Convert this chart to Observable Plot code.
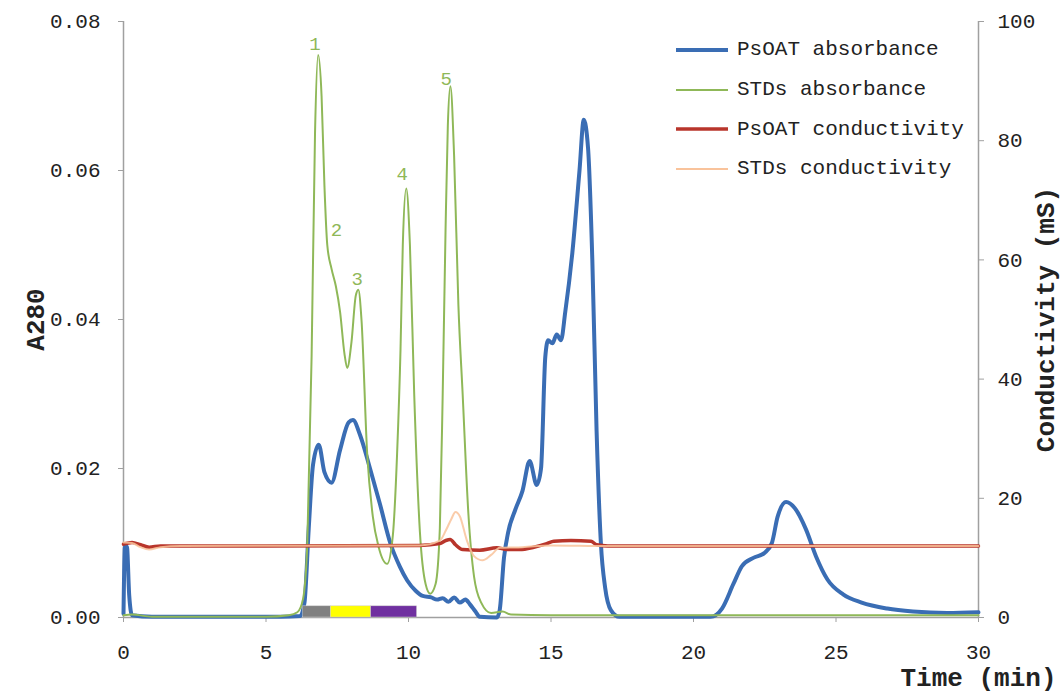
<!DOCTYPE html>
<html>
<head>
<meta charset="utf-8">
<script src="https://cdn.jsdelivr.net/npm/d3@7"></script>
<script src="https://cdn.jsdelivr.net/npm/@observablehq/plot@0.6"></script>
<style>
  html, body { margin: 0; padding: 0; background: #fff; }
  #chart { position: relative; width: 1064px; height: 695px; }
  .legend { position: absolute; left: 676px; top: 30px; font-family: "Liberation Mono", monospace; font-size: 21px; color: #222; }
  .legend .row { display: flex; align-items: center; height: 39.7px; }
  .legend svg { margin-right: 9px; }
</style>
</head>
<body>
<div id="chart"></div>
<script>
// Elution time axis (min) and tick labels
const xTicks = [0, 5, 10, 15, 20, 25, 30];
const absTicks = [0, 0.02, 0.04, 0.06, 0.08];
const condTicks = [0, 20, 40, 60, 80, 100];

// PsOAT absorbance at 280 nm
const psoatAbsTime = [0, 0.05, 0.12, 0.2, 0.3, 1.0, 3.0, 5.5, 6.2, 6.35, 6.5, 6.65, 6.85, 7.05, 7.3, 7.6, 7.9, 8.05, 8.3, 8.65, 9.0, 9.36, 9.7, 9.95, 10.25, 10.5, 10.8, 11.0, 11.2, 11.4, 11.6, 11.8, 12.0, 12.15, 12.35, 12.5, 13.1, 13.2, 13.35, 13.5, 13.75, 14.0, 14.25, 14.5, 14.65, 14.8, 14.9, 15.05, 15.2, 15.35, 15.5, 15.75, 16.0, 16.15, 16.3, 16.45, 16.6, 16.75, 16.9, 17.1, 17.4, 20.6, 21.0, 21.4, 21.7, 22.1, 22.5, 22.75, 22.95, 23.25, 23.55, 23.95, 24.3, 24.7, 25.25, 25.9, 26.8, 27.7, 28.9, 30];
const psoatAbs = [0.0005, 0.0095, 0.0095, 0.003, 0.0003, 0.0001, 0.0001, 0.0001, 0.0002, 0.002, 0.012, 0.0205, 0.0232, 0.0195, 0.0181, 0.0225, 0.0262, 0.0265, 0.0245, 0.0200, 0.0152, 0.0100, 0.0068, 0.0050, 0.0036, 0.0029, 0.0027, 0.0024, 0.0026, 0.0021, 0.0027, 0.0020, 0.0024, 0.0018, 0.0008, 0.0001, 0.0, 0.001, 0.008, 0.0115, 0.0145, 0.0170, 0.0210, 0.0178, 0.0200, 0.0350, 0.0372, 0.0368, 0.0380, 0.0372, 0.0410, 0.0490, 0.0600, 0.0668, 0.0630, 0.0480, 0.0250, 0.0100, 0.0040, 0.0010, 0.0001, 0.0001, 0.0012, 0.0045, 0.0069, 0.0080, 0.0087, 0.0100, 0.0135, 0.0155, 0.0147, 0.0118, 0.0082, 0.0051, 0.0031, 0.0020, 0.0012, 0.0008, 0.0006, 0.0007];

// Standards absorbance at 280 nm
const stdAbsTime = [0, 0.3, 1.0, 5.0, 5.8, 6.1, 6.3, 6.45, 6.6, 6.72, 6.83, 6.95, 7.05, 7.15, 7.3, 7.45, 7.6, 7.75, 7.85, 8.0, 8.15, 8.24, 8.35, 8.55, 8.75, 8.95, 9.25, 9.45, 9.6, 9.72, 9.8, 9.92, 10.05, 10.2, 10.4, 10.6, 10.76, 10.95, 11.1, 11.2, 11.3, 11.38, 11.47, 11.6, 11.75, 11.9, 12.1, 12.3, 12.55, 12.9, 13.3, 13.6, 15, 20, 30];
const stdAbs = [0.0003, 0.0004, 0.0001, 0.0001, 0.0003, 0.0007, 0.0025, 0.010, 0.035, 0.065, 0.0755, 0.070, 0.058, 0.050, 0.0468, 0.0445, 0.041, 0.0355, 0.0335, 0.037, 0.0432, 0.0440, 0.040, 0.022, 0.0135, 0.0095, 0.0072, 0.011, 0.022, 0.036, 0.050, 0.0576, 0.050, 0.030, 0.0115, 0.0045, 0.0032, 0.0045, 0.012, 0.030, 0.052, 0.066, 0.0713, 0.062, 0.042, 0.030, 0.014, 0.0055, 0.0020, 0.0006, 0.0008, 0.0004, 0.0003, 0.0003, 0.0003];

// PsOAT conductivity (mS)
const psoatCondTime = [0, 0.3, 0.6, 0.9, 1.3, 5, 10.4, 11.1, 11.3, 11.46, 11.65, 11.9, 12.5, 13.1, 13.45, 13.9, 14.4, 14.85, 15.1, 15.7, 16.4, 16.6, 17.0, 30];
const psoatCond = [12.3, 12.6, 12.2, 11.8, 12.0, 12.0, 12.1, 12.4, 12.9, 13.1, 12.2, 11.4, 11.3, 11.7, 11.4, 11.4, 11.8, 12.4, 12.8, 12.9, 12.8, 12.2, 12.0, 12.0];

// Standards conductivity (mS)
const stdCondTime = [0, 0.3, 0.6, 0.9, 1.3, 2, 10.4, 11.1, 11.3, 11.5, 11.65, 11.8, 12.05, 12.3, 12.6, 12.9, 13.2, 14, 15, 17, 30];
const stdCond = [12.6, 12.5, 11.8, 11.4, 11.8, 12.0, 12.1, 12.9, 14.5, 16.5, 17.7, 17.0, 12.9, 10.3, 9.6, 10.5, 11.7, 11.8, 12.1, 12.0, 12.0];

// Peak numbers of the standards
const peakLabels = ["1", "2", "3", "4", "5"];
const peakLabelTime = [6.72, 7.47, 8.2, 9.78, 11.32];
const peakLabelValue = [0.0770, 0.0520, 0.0455, 0.0596, 0.0723];

// Collected fractions along the time axis
const fractionStart = [6.3, 7.28, 8.69];
const fractionEnd = [7.28, 8.69, 10.3];
const fractionColor = ["#808080", "#ffff00", "#7030a0"];
const fractionBarHeight = 0.0015;

// Series names and colours
const seriesNames = ["PsOAT absorbance", "STDs absorbance", "PsOAT conductivity", "STDs conductivity"];
const seriesColors = ["#3a6db4", "#8fb858", "#b8352b", "#f9c39b"];
const seriesWidths = [4, 2, 3.5, 2];

// conductivity (0–100 mS) shares the absorbance (0–0.08) scale
const K = 0.08 / 100;
const rows = (t, v, f = 1) => t.map((x, i) => ({t: x, v: v[i] * f}));

const fractions = fractionStart.map((s, i) => ({x1: s, x2: fractionEnd[i], fill: fractionColor[i]}));
const peaks = peakLabels.map((p, i) => ({t: peakLabelTime[i], v: peakLabelValue[i], label: p}));

const axisGray = "#a0a0a0";
const curve = "monotone-x";

const plot = Plot.plot({
  width: 1064,
  height: 695,
  marginLeft: 123,
  marginRight: 86,
  marginTop: 21,
  marginBottom: 78,
  style: {fontFamily: "Liberation Mono, monospace", fontSize: "21px", color: "#222", background: "#fff", overflow: "visible"},
  x: {domain: [0, 30]},
  y: {domain: [0, 0.08]},
  marks: [
    Plot.axisX({ticks: xTicks, tickFormat: d3.format("d"), tickSize: 5, tickPadding: 22, label: null, stroke: axisGray}),
    Plot.axisY({anchor: "left", ticks: absTicks, tickFormat: d3.format(".2f"), tickSize: 5, tickPadding: 18, label: null, stroke: axisGray}),
    Plot.axisY({anchor: "right", ticks: condTicks.map(c => c * K), tickFormat: d => String(Math.round(d / K)), tickSize: 5, tickPadding: 14, label: null, stroke: axisGray}),
    Plot.ruleX([0, 30], {stroke: axisGray, strokeWidth: 1.5}),
    Plot.ruleY([0], {stroke: axisGray, strokeWidth: 1.5}),

    Plot.line(rows(psoatAbsTime, psoatAbs), {x: "t", y: "v", stroke: seriesColors[0], strokeWidth: seriesWidths[0], curve}),
    Plot.line(rows(stdAbsTime, stdAbs), {x: "t", y: "v", stroke: seriesColors[1], strokeWidth: seriesWidths[1], curve}),
    Plot.line(rows(psoatCondTime, psoatCond, K), {x: "t", y: "v", stroke: seriesColors[2], strokeWidth: seriesWidths[2], curve}),
    Plot.line(rows(stdCondTime, stdCond, K), {x: "t", y: "v", stroke: seriesColors[3], strokeWidth: seriesWidths[3], strokeOpacity: 0.85, curve}),

    Plot.rect(fractions, {x1: "x1", x2: "x2", y1: 0, y2: fractionBarHeight, fill: "fill", stroke: "#cccccc", strokeWidth: 0.5}),

    Plot.text(peaks, {x: "t", y: "v", text: "label", fill: seriesColors[1], fontSize: 19}),

    Plot.text(["A280"], {frameAnchor: "left", textAnchor: "middle", dx: -88, rotate: -90, fontWeight: "bold", fontSize: 26}),
    Plot.text(["Conductivity (mS)"], {frameAnchor: "right", textAnchor: "middle", dx: 67, rotate: -90, fontWeight: "bold", fontSize: 26}),
    Plot.text(["Time (min)"], {frameAnchor: "bottom-right", dx: 78, dy: 68, textAnchor: "end", fontWeight: "bold", fontSize: 26})
  ]
});

const host = document.getElementById("chart");
host.appendChild(plot);

// legend drawn over the upper right of the plot area
const legend = document.createElement("div");
legend.className = "legend";
seriesNames.forEach((name, i) => {
  const row = document.createElement("div");
  row.className = "row";
  row.innerHTML = `<svg width="52" height="10"><line x1="0" x2="52" y1="5" y2="5" stroke="${seriesColors[i]}" stroke-width="${seriesWidths[i]}"/></svg><span>${name}</span>`;
  legend.appendChild(row);
});
host.appendChild(legend);
</script>
</body>
</html>
